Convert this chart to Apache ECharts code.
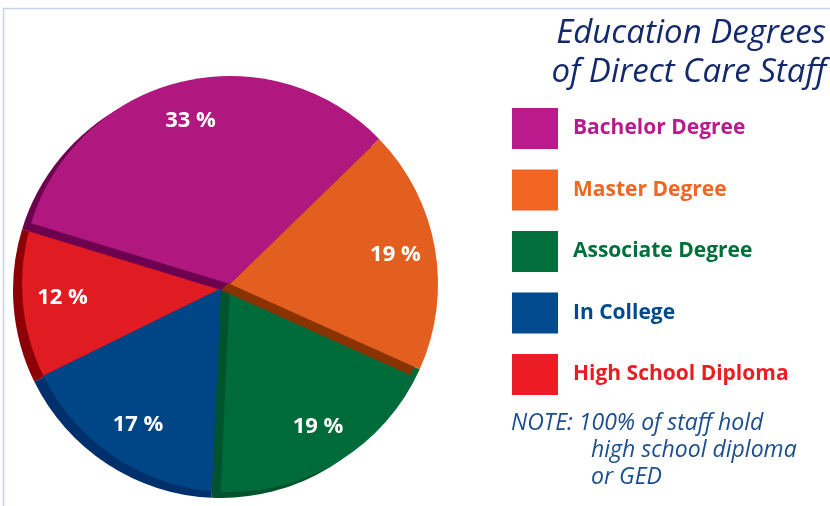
<!DOCTYPE html>
<html>
<head>
<meta charset="utf-8">
<script src="https://cdn.jsdelivr.net/npm/echarts@6/dist/echarts.min.js"></script>
<style>
  html, body { margin: 0; padding: 0; background: #fff; }
  #main { width: 830px; height: 506px; }
</style>
</head>
<body>
<div id="main"></div>
<script>
// data
const categories = ['Bachelor Degree', 'Master Degree', 'Associate Degree', 'In College', 'High School Diploma'];
const percents = [33, 19, 19, 17, 12];

// colours
const faceColors = ['#B0177F', '#E25F20', '#006B3A', '#004687', '#E01B22'];
const sideColors = ['#6E0050', '#8A3300', '#00532C', '#00306B', '#8C0006'];
const legendColors = ['#BB1A8C', '#F26522', '#006F3B', '#004A8D', '#ED1C24'];

const cx = 230, cy = 284, R = 208;
const depth = [-9, 6];   // side face offset (fake 3d)
const startAngle = 163;
// back to front: red, blue, green, orange, pink
const drawOrder = [4, 3, 2, 1, 0];

function slicePie(k, side, z) {
  return {
    type: 'pie',
    silent: true,
    animation: false,
    z: z,
    center: side ? [cx + depth[0], cy + depth[1]] : [cx, cy],
    radius: R,
    startAngle: startAngle,
    clockwise: true,
    label: { show: false },
    labelLine: { show: false },
    data: categories.map((name, j) => ({
      name: name,
      value: percents[j],
      itemStyle: {
        borderWidth: 0,
        color: j === k ? (side ? sideColors[j] : faceColors[j]) : 'rgba(0,0,0,0)'
      }
    }))
  };
}

const series = [];
let z = 2;
drawOrder.forEach(k => {
  series.push(slicePie(k, true, z++));
  series.push(slicePie(k, false, z++));
});
// label ring, only for the percent texts
series.push({
  type: 'pie',
  silent: true,
  animation: false,
  z: z++,
  center: [cx, cy],
  radius: [122, R],
  startAngle: startAngle,
  clockwise: true,
  itemStyle: { color: 'rgba(0,0,0,0)', borderWidth: 0 },
  label: {
    show: true,
    position: 'inside',
    formatter: '{c} %',
    color: '#fff',
    fontFamily: 'Open Sans',
    fontWeight: 'bold',
    fontSize: 22
  },
  labelLine: { show: false },
  data: categories.map((name, j) => ({ name: name, value: percents[j] }))
});

const chart = echarts.init(document.getElementById('main'));
chart.setOption({
  backgroundColor: '#fff',
  legend: {
    orient: 'vertical',
    left: 512,
    top: 108,
    padding: 0,
    icon: 'rect',
    itemWidth: 46,
    itemHeight: 41,
    itemGap: 20.5,
    selectedMode: false,
    textStyle: {
      fontFamily: 'Open Sans',
      fontWeight: 'bold',
      fontSize: 21,
      padding: [0, 0, 0, 10]
    },
    data: categories.map((name, j) => ({
      name: name,
      itemStyle: { color: legendColors[j] },
      textStyle: { color: legendColors[j] }
    }))
  },
  graphic: [
    {
      type: 'rect',
      silent: true,
      shape: { x: 3.5, y: 8.5, width: 1000, height: 1000 },
      style: { fill: 'none', stroke: '#C5D3EC', lineWidth: 1.5 }
    },
    {
      type: 'text',
      x: 826,
      y: 14,
      style: {
        text: 'Education Degrees\nof Direct Care Staff',
        align: 'right',
        verticalAlign: 'top',
        font: 'italic 500 33px "Open Sans"',
        lineHeight: 39,
        fill: '#14296B'
      }
    },
    {
      type: 'text',
      x: 511,
      y: 410,
      style: {
        text: 'NOTE: 100% of staff hold',
        verticalAlign: 'top',
        font: 'italic 23px "Open Sans"',
        lineHeight: 27,
        fill: '#1C4D8F'
      }
    },
    {
      type: 'text',
      x: 591,
      y: 437,
      style: {
        text: 'high school diploma\nor GED',
        verticalAlign: 'top',
        font: 'italic 23px "Open Sans"',
        lineHeight: 27,
        fill: '#1C4D8F'
      }
    }
  ],
  series: series
});
</script>
</body>
</html>
